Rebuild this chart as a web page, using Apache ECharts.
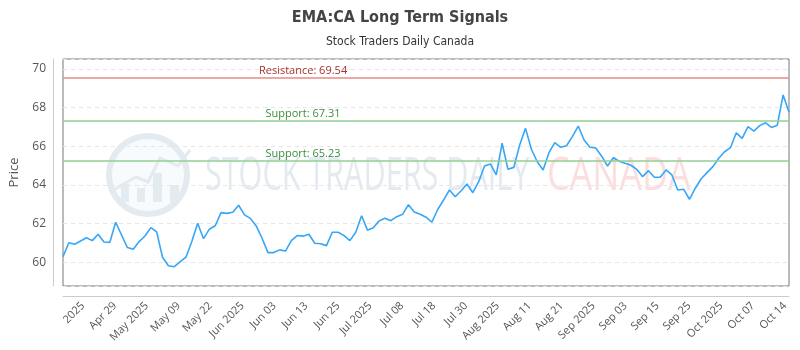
<!DOCTYPE html>
<html>
<head>
<meta charset="utf-8">
<script src="https://cdn.jsdelivr.net/npm/echarts@6/dist/echarts.min.js"></script>
<style>html,body{margin:0;padding:0;background:#fff;}#c{width:800px;height:350px;}</style>
</head>
<body>
<div id="c"></div>
<script>
// ---- data ----
const titleText = 'EMA:CA Long Term Signals';
const subtitleText = 'Stock Traders Daily Canada';
const prices = [60.29, 61.01, 60.93, 61.10, 61.27, 61.12, 61.45, 61.05, 61.03, 62.07,
  61.41, 60.76, 60.67, 61.07, 61.36, 61.79, 61.57, 60.26, 59.82, 59.77,
  60.02, 60.26, 61.07, 62.02, 61.22, 61.71, 61.89, 62.57, 62.53, 62.59,
  62.95, 62.45, 62.27, 61.88, 61.24, 60.50, 60.50, 60.64, 60.58, 61.12,
  61.38, 61.35, 61.45, 60.98, 60.96, 60.86, 61.55, 61.55, 61.38, 61.12,
  61.55, 62.41, 61.66, 61.79, 62.14, 62.28, 62.15, 62.36, 62.48, 62.98,
  62.60, 62.48, 62.33, 62.07, 62.73, 63.22, 63.74, 63.39, 63.70, 64.05,
  63.60, 64.17, 64.98, 65.09, 64.52, 66.16, 64.81, 64.91, 66.07, 66.93,
  65.85, 65.20, 64.77, 65.67, 66.19, 65.95, 66.03, 66.50, 67.05, 66.33,
  65.95, 65.91, 65.49, 64.98, 65.41, 65.23, 65.12, 65.02, 64.81, 64.43,
  64.74, 64.40, 64.40, 64.78, 64.52, 63.74, 63.78, 63.26, 63.83, 64.32,
  64.64, 64.95, 65.38, 65.72, 65.93, 66.70, 66.41, 67.02, 66.79, 67.07,
  67.22, 66.98, 67.09, 68.66, 67.76];
const categories = prices.map((_, i) => String(i));
const tickLabels = ['2025', 'Apr 29', 'May 2025', 'May 09', 'May 22', 'Jun 2025', 'Jun 03',
  'Jun 13', 'Jun 25', 'Jul 2025', 'Jul 08', 'Jul 18', 'Jul 30', 'Aug 2025', 'Aug 11',
  'Aug 21', 'Sep 2025', 'Sep 03', 'Sep 15', 'Sep 25', 'Oct 2025', 'Oct 07', 'Oct 14'];
const yTicks = [60, 62, 64, 66, 68, 70];
const resistance = 69.54;
const supports = [67.31, 65.23];

// ---- layout ----
const GRID_LEFT = 61, GRID_RIGHT = 11, GRID_TOP = 59, GRID_BOTTOM = 64;
const GRID_W = 800 - GRID_LEFT - GRID_RIGHT;
const LABEL_FIRST = 20, LABEL_STEP = 32;
const labelSlots = new Array(GRID_W + 1).fill('');
tickLabels.forEach((t, k) => { labelSlots[LABEL_FIRST + k * LABEL_STEP] = t; });
const labelIdx = Math.round((prices.length - 1) * 0.33);
const lastIdx = prices.length - 1;
const FONT = "'Open Sans', sans-serif";
const COND = "'DejaVu Sans Condensed', 'Open Sans', sans-serif";

function levelLine(v, color, textColor, text) {
  return [
    [{ xAxis: 0, yAxis: v, lineStyle: { color: color, width: 1.6, type: 'solid' },
       label: { show: true, position: 'insideMiddleTop', formatter: text, color: textColor,
                fontSize: 11, fontFamily: FONT, distance: 2 } },
     { xAxis: labelIdx * 2, yAxis: v }],
    [{ xAxis: labelIdx * 2, yAxis: v, lineStyle: { color: color, width: 1.6, type: 'solid' },
       label: { show: false } },
     { xAxis: lastIdx, yAxis: v }]
  ];
}

const markData = [].concat(
  levelLine(resistance, '#e98a8a', '#a83232', 'Resistance: ' + resistance.toFixed(2)),
  levelLine(supports[0], '#92cf92', '#3c8c3c', 'Support: ' + supports[0].toFixed(2)),
  levelLine(supports[1], '#92cf92', '#3c8c3c', 'Support: ' + supports[1].toFixed(2))
);

const WM = '#e3eaf0';
const chart = echarts.init(document.getElementById('c'), null, { renderer: 'canvas' });
chart.setOption({
  animation: false,
  backgroundColor: '#fff',
  title: {
    text: titleText, subtext: subtitleText, left: 'center', top: 5, itemGap: 10,
    textStyle: { fontFamily: COND, fontWeight: 'bold', fontSize: 16, color: '#444' },
    subtextStyle: { fontFamily: COND, fontSize: 12, color: '#333' }
  },
  graphic: [
    { type: 'circle', z: 0, silent: true, shape: { cx: 148, cy: 175, r: 39 },
      style: { fill: 'rgba(244,248,251,0.6)', stroke: WM, lineWidth: 6 } },
    { type: 'rect', z: 0, silent: true, shape: { x: 121, y: 184, width: 8, height: 18 }, style: { fill: WM } },
    { type: 'rect', z: 0, silent: true, shape: { x: 137, y: 188, width: 8, height: 14 }, style: { fill: WM } },
    { type: 'rect', z: 0, silent: true, shape: { x: 153, y: 173, width: 9, height: 29 }, style: { fill: WM } },
    { type: 'rect', z: 0, silent: true, shape: { x: 170, y: 185, width: 9, height: 17 }, style: { fill: WM } },
    { type: 'polyline', z: 0, silent: true,
      shape: { points: [[113, 190], [136, 177], [148, 182], [160, 158], [178, 166], [190, 150]] },
      style: { stroke: WM, lineWidth: 3, fill: 'none' } },
    { type: 'text', z: 0, silent: true, x: 205, y: 177, scaleX: 0.665,
      style: { text: 'STOCK TRADERS DAILY', fontSize: 46, fontFamily: FONT, fill: WM,
               textVerticalAlign: 'middle' } },
    { type: 'text', z: 0, silent: true, x: 547, y: 177, scaleX: 0.78,
      style: { text: 'CANADA', fontSize: 46, fontFamily: FONT, fill: '#fbdfdf',
               textVerticalAlign: 'middle' } }
  ],
  grid: { left: GRID_LEFT, right: GRID_RIGHT, top: GRID_TOP, bottom: GRID_BOTTOM,
          show: true, borderColor: '#777', borderWidth: 1, backgroundColor: 'transparent' },
  xAxis: [
    { type: 'category', data: categories, boundaryGap: false, show: false },
    { type: 'category', data: labelSlots, boundaryGap: false, position: 'bottom', offset: 10,
      axisLine: { show: true, lineStyle: { color: '#ccc' } },
      axisTick: { show: false }, splitLine: { show: false },
      axisLabel: { rotate: 45, margin: 8, fontSize: 11, fontFamily: FONT, color: '#555',
                   interval: (i, v) => v !== '' } }
  ],
  yAxis: {
    type: 'value', min: 58.77, max: 70.52, offset: 10,
    name: 'Price', nameLocation: 'middle', nameGap: 32,
    nameTextStyle: { fontFamily: FONT, fontSize: 13, color: '#555' },
    axisLine: { show: true, lineStyle: { color: '#ccc' } },
    axisTick: { show: false },
    axisLabel: { fontFamily: FONT, fontSize: 12, color: '#555', margin: 7,
                 formatter: v => yTicks.indexOf(v) >= 0 ? String(v) : '' },
    splitLine: { show: true, lineStyle: { color: '#e6e6e6', type: [4, 4] } }
  },
  series: [{
    type: 'line', xAxisIndex: 0, data: prices, symbol: 'none',
    lineStyle: { color: '#36a6f7', width: 1.6 },
    markLine: { silent: true, symbol: 'none', animation: false, data: markData }
  }]
});
</script>
</body>
</html>
